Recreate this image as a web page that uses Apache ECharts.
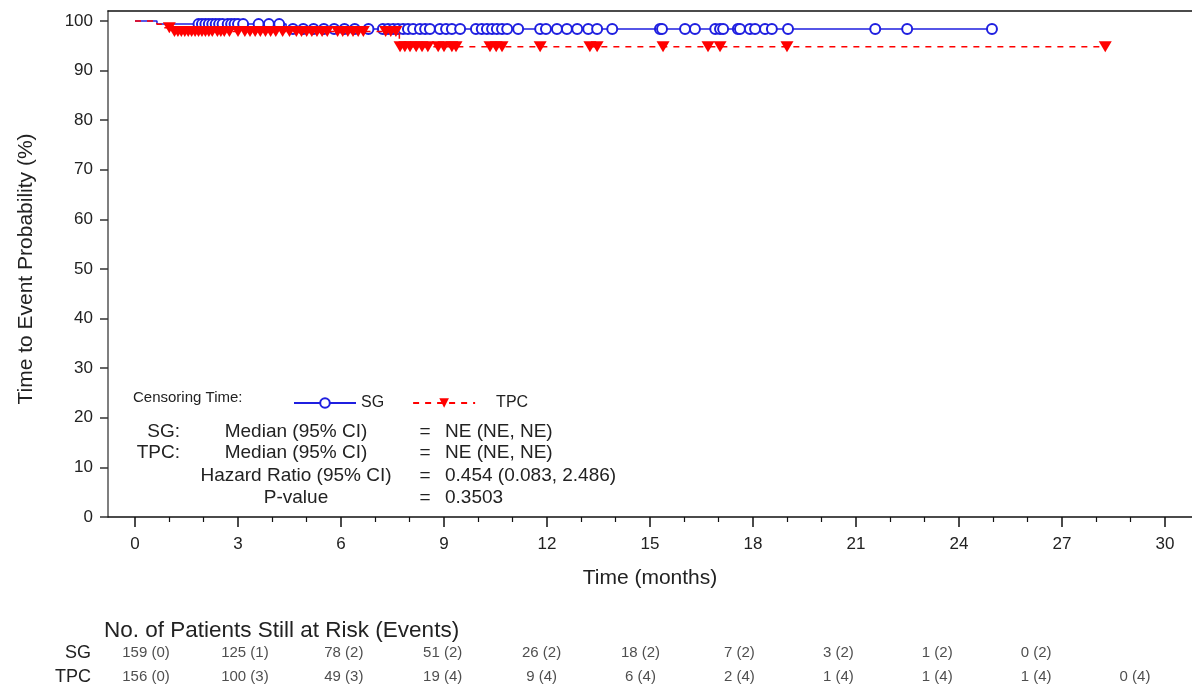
<!DOCTYPE html>
<html>
  <head>
    <meta charset="utf-8" />
    <title>KM</title>
    <script src="https://cdn.jsdelivr.net/npm/echarts@6/dist/echarts.min.js"></script>
  </head>
  <body style="margin: 0">
    <div id="main" style="width: 1192px; height: 689px"></div>
  </body>

  <script>
    var myChart = echarts.init(document.getElementById("main"));

    // event steps (time in months, survival % after the event)
    var sgEventTimes = [0.64, 4.4];
    var sgEventSurv = [99.37, 98.38];
    var tpcEventTimes = [0.64, 0.82, 1.1, 7.7];
    var tpcEventSurv = [99.36, 98.65, 97.89, 94.83];

    // censoring times
    var sgCensor = [1.85, 1.95, 2.05, 2.15, 2.25, 2.35, 2.45, 2.55, 2.7, 2.8, 2.9, 3.0, 3.15,
      3.6, 3.9, 4.2, 4.6, 4.9, 5.2, 5.5, 5.8, 6.1, 6.4, 6.8,
      7.22, 7.37, 7.52, 7.66, 7.81, 7.95, 8.1, 8.3, 8.45, 8.59, 8.88, 9.06, 9.23, 9.47,
      9.93, 10.1, 10.25, 10.4, 10.54, 10.69, 10.84, 11.16, 11.8, 11.97, 12.29, 12.58,
      12.88, 13.2, 13.46, 13.9, 15.29, 15.35, 16.02, 16.31, 16.9, 17.04, 17.13, 17.56,
      17.62, 17.91, 18.06, 18.35, 18.55, 19.02, 21.56, 22.49, 24.96];
    var tpcCensor = [1.0, 1.15, 1.25, 1.35, 1.45, 1.55, 1.65, 1.75, 1.85, 1.95, 2.05, 2.15,
      2.25, 2.4, 2.5, 2.6, 2.75, 3.0, 3.2, 3.35, 3.5, 3.65, 3.8, 3.95, 4.1, 4.3, 4.5, 4.7,
      4.85, 5.0, 5.15, 5.3, 5.45, 5.6, 5.9, 6.05, 6.2, 6.35, 6.5, 6.65, 7.3, 7.45, 7.6,
      7.72, 7.86, 8.01, 8.19, 8.36, 8.53, 8.83, 9.0, 9.23, 9.35, 10.34, 10.52, 10.69,
      11.8, 13.25, 13.46, 15.38, 16.69, 17.04, 18.99, 28.26];

    // risk table
    var riskTimes = [0, 3, 6, 9, 12, 15, 18, 21, 24, 27, 30];
    var sgRisk = ["159 (0)", "125 (1)", "78 (2)", "51 (2)", "26 (2)", "18 (2)", "7 (2)", "3 (2)", "1 (2)", "0 (2)"];
    var tpcRisk = ["156 (0)", "100 (3)", "49 (3)", "19 (4)", "9 (4)", "6 (4)", "2 (4)", "1 (4)", "1 (4)", "1 (4)", "0 (4)"];

    // summary statistics
    var statLabels = ["SG:", "TPC:", "", ""];
    var statNames = ["Median (95% CI)", "Median (95% CI)", "Hazard Ratio (95% CI)", "P-value"];
    var statValues = ["NE (NE, NE)", "NE (NE, NE)", "0.454 (0.083, 2.486)", "0.3503"];
    var statRowsY = [432, 453, 476, 498];

    function kmData(eventT, eventS, censorT) {
      var all = eventT.map(function (t, i) { return { t: t, s: eventS[i], ev: true }; })
        .concat(censorT.map(function (t) { return { t: t, ev: false }; }));
      all.sort(function (a, b) { return a.t - b.t; });
      var cur = 100;
      var pts = [{ value: [0, 100], symbol: "none" }];
      all.forEach(function (p) {
        if (p.ev) {
          cur = p.s;
          pts.push({ value: [p.t, cur], symbol: "none" });
        } else {
          pts.push({ value: [p.t, cur] });
        }
      });
      return pts;
    }

    var font = "Liberation Sans";
    var txtColor = "#222";

    var statGraphics = [
      { type: "text", left: 133, top: 390, style: { text: "Censoring Time:", fontSize: 15, fill: txtColor, fontFamily: font } },
    ];
    statRowsY.forEach(function (y, i) {
      var st = { fontSize: 19, fill: txtColor, fontFamily: font, verticalAlign: "middle" };
      statGraphics.push({ type: "text", x: 180, y: y, style: Object.assign({ text: statLabels[i], align: "right" }, st) });
      statGraphics.push({ type: "text", x: 296, y: y, style: Object.assign({ text: statNames[i], align: "center" }, st) });
      statGraphics.push({ type: "text", x: 425, y: y, style: Object.assign({ text: "=", align: "center" }, st) });
      statGraphics.push({ type: "text", x: 445, y: y, style: Object.assign({ text: statValues[i], align: "left" }, st) });
    });

    option = {
      backgroundColor: "#fff",
      animation: false,
      textStyle: { fontFamily: font },
      title: {
        text: "No. of Patients Still at Risk (Events)",
        left: 99,
        top: 614,
        textStyle: { fontSize: 22.5, fontWeight: "normal", color: txtColor, fontFamily: font },
      },
      legend: {
        left: 288,
        top: 390,
        itemWidth: 62,
        itemHeight: 12,
        itemGap: 28,
        textStyle: { fontSize: 16, color: txtColor },
        data: ["SG", { name: "TPC", textStyle: { padding: [0, 0, 0, 16] } }],
      },
      grid: [
        { left: 108, right: 0, top: 11, bottom: 172 }, // frame
        { left: 135, right: 27, top: 21, bottom: 172 }, // data
        { left: 146, right: 57, top: 641, bottom: 0 }, // risk table
        { left: 108, right: 0, top: 21, bottom: 172 }, // y axis
      ],
      xAxis: [
        {
          gridIndex: 0, type: "value", min: 0, max: 1, position: "bottom",
          axisLine: { lineStyle: { color: "#111", width: 1.5 } },
          axisTick: { show: false }, axisLabel: { show: false }, splitLine: { show: false },
        },
        {
          gridIndex: 0, type: "value", min: 0, max: 1, position: "top",
          axisLine: { lineStyle: { color: "#111", width: 1.5 } },
          axisTick: { show: false }, axisLabel: { show: false }, splitLine: { show: false },
        },
        {
          gridIndex: 1, type: "value", min: 0, max: 30, interval: 3,
          name: "Time (months)",
          nameLocation: "middle",
          nameGap: 51,
          nameTextStyle: { fontSize: 21, color: txtColor },
          axisLine: { show: false },
          axisTick: { show: true, length: 10, lineStyle: { color: "#111", width: 1.5 } },
          minorTick: { show: true, splitNumber: 3, length: 5, lineStyle: { color: "#111", width: 1.2 } },
          axisLabel: { fontSize: 17, color: txtColor, margin: 19 },
          splitLine: { show: false },
        },
        { gridIndex: 2, type: "value", min: 0, max: 30, show: false },
        { gridIndex: 3, type: "value", min: 0, max: 1, show: false },
      ],
      yAxis: [
        {
          gridIndex: 0, type: "value", min: 0, max: 1, position: "left",
          axisLine: { show: true, lineStyle: { color: "#555", width: 1.5 } },
          axisTick: { show: false }, axisLabel: { show: false }, splitLine: { show: false },
        },
        {
          gridIndex: 1, type: "value", min: 0, max: 100, show: false,
        },
        {
          gridIndex: 2, type: "category", data: ["TPC", "SG"],
          axisLine: { show: false }, axisTick: { show: false },
          axisLabel: { fontSize: 18, color: txtColor, margin: 55 },
        },
        {
          gridIndex: 3, type: "value", min: 0, max: 100, interval: 10,
          name: "Time to Event Probability (%)",
          nameLocation: "middle",
          nameGap: 71,
          nameTextStyle: { fontSize: 21, color: txtColor },
          axisLine: { show: false },
          axisTick: { show: true, length: 8, lineStyle: { color: "#333", width: 1.5 } },
          axisLabel: { fontSize: 17, color: txtColor, margin: 15 },
          splitLine: { show: false },
        },
      ],
      series: [
        {
          name: "SG",
          type: "line",
          xAxisIndex: 2,
          yAxisIndex: 1,
          step: "end",
          clip: false,
          symbol: "emptyCircle",
          symbolSize: 10,
          itemStyle: { color: "#1f1fe0", borderWidth: 1.5 },
          lineStyle: { color: "#1f1fe0", width: 1.5 },
          data: kmData(sgEventTimes, sgEventSurv, sgCensor),
          z: 3,
        },
        {
          name: "TPC",
          type: "line",
          xAxisIndex: 2,
          yAxisIndex: 1,
          step: "end",
          clip: false,
          symbol: "triangle",
          symbolRotate: 180,
          symbolSize: [13, 11],
          itemStyle: { color: "#ff0000" },
          lineStyle: { color: "#ff0000", width: 1.5, type: [6, 6] },
          data: kmData(tpcEventTimes, tpcEventSurv, tpcCensor),
          z: 4,
        },
        {
          name: "riskSG",
          type: "scatter",
          xAxisIndex: 3,
          yAxisIndex: 2,
          symbolSize: 0,
          data: sgRisk.map(function (t, i) { return { value: [riskTimes[i], "SG"], txt: t }; }),
          label: {
            show: true, position: "inside", fontSize: 15, color: txtColor,
            formatter: function (p) { return p.data.txt; },
          },
        },
        {
          name: "riskTPC",
          type: "scatter",
          xAxisIndex: 3,
          yAxisIndex: 2,
          symbolSize: 0,
          data: tpcRisk.map(function (t, i) { return { value: [riskTimes[i], "TPC"], txt: t }; }),
          label: {
            show: true, position: "inside", fontSize: 15, color: txtColor,
            formatter: function (p) { return p.data.txt; },
          },
        },
      ],
      graphic: statGraphics,
    };

    myChart.setOption(option);
  </script>
</html>
